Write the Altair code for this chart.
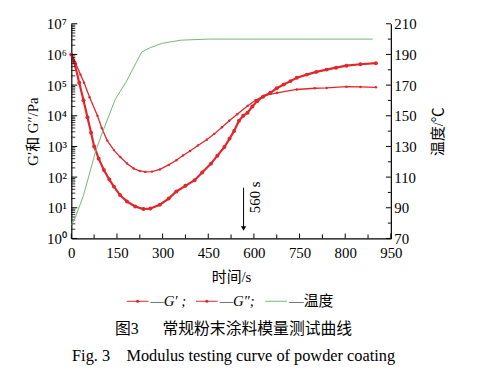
import altair as alt
import pandas as pd

# ---------------- data ----------------
time_gp = [0, 10, 26, 40, 53, 65, 75, 90, 107, 125, 140, 160, 183, 210, 237, 260, 291, 320, 345,
           375, 405, 430, 459, 480, 503, 520, 535, 551, 565, 579, 595, 611, 630, 654, 675, 698,
           720, 741, 774, 805, 839, 870, 904, 950, 1001]
g_storage = [1.0e6, 5.6e5, 1.2e5, 3.2e4, 8.9e3, 2.8e3, 1.0e3, 4.0e2, 1.7e2, 83, 49, 26, 16, 11,
             9.1, 9.5, 12.6, 20, 34, 52, 79, 141, 275, 500, 955, 1.8e3, 3.2e3, 6.9e3, 1.0e4,
             1.26e4, 2.0e4, 3.0e4, 4.2e4, 5.6e4, 7.9e4, 1.05e5, 1.35e5, 1.74e5, 2.2e5, 2.7e5,
             3.2e5, 3.7e5, 4.3e5, 4.8e5, 5.2e5]

time_gpp = [0, 15, 30, 42, 60, 86, 100, 118, 140, 161, 183, 205, 225, 243, 265, 291, 320, 345,
            367, 390, 416, 445, 470, 495, 519, 545, 579, 605, 633, 676, 741, 800, 839, 904, 950,
            1001]
g_loss = [1.0e6, 5.0e5, 2.2e5, 1.2e5, 4.0e4, 1.0e4, 4.0e3, 1.55e3, 760, 450, 280, 190, 160, 148,
          151, 178, 250, 355, 510, 710, 1.07e3, 1.66e3, 2.57e3, 4.2e3, 6.9e3, 1.12e4, 2.1e4,
          3.2e4, 4.5e4, 5.6e4, 7.2e4, 7.9e4, 8.1e4, 8.9e4, 8.7e4, 8.5e4]

time_temp = [0, 10, 40, 80, 100, 145, 180, 231, 260, 300, 360, 450, 600, 800, 990]
temperature = [79, 82, 98, 127, 138, 161, 172, 191.5, 194.5, 197.3, 199.3, 200, 200, 200, 200]

x_ticks = [0, 150, 300, 450, 600, 750, 900, 1050]
x_tick_text = ["0", "150", "300", "450", "600", "750", "800", "950"]
x_minor = [75, 225, 375, 525, 675, 825, 975]
y_decades = [1, 10, 100, 1e3, 1e4, 1e5, 1e6, 1e7]
y_decade_text = ["10⁰", "10¹", "10²", "10³", "10⁴", "10⁵", "10⁶", "10⁷"]
y_minor = [m * 10 ** k for k in range(7) for m in range(2, 10)]
t_ticks = [70, 90, 110, 130, 150, 170, 190, 210]
t_minor = [80, 100, 120, 140, 160, 180, 200]

arrow_time = [566]
arrow_top = [45]
arrow_tip = [2.1]
arrow_label = ["560 s"]
arrow_label_y = [22]

legend_texts = ["—G′ ;", "—G″;", "—温度"]
axis_x_title = "时间/s"
axis_y_title = "G′和 G″/Pa"
axis_t_title = "温度/℃"
caption_cn = "图3\u3000\u2002常规粉末涂料模量测试曲线"
caption_en = "Fig. 3\u00a0\u00a0\u00a0\u00a0Modulus testing curve of powder coating"

# ---------------- styling ----------------
RED = "#e3262c"
GREEN = "#72b872"
FONT = "Liberation Serif, Noto Sans CJK SC"
W, H = 323, 217

xs = alt.Scale(domain=[0, 1050], nice=False, zero=False)
ys = alt.Scale(type="log", domain=[1, 1e7], nice=False)
ts = alt.Scale(domain=[70, 210], nice=False, zero=False)


def expr_map(values, texts):
    e = "datum.label"
    for v, t in reversed(list(zip(values, texts))):
        e = f"(abs(datum.value - {v}) < {v}*1e-6 + 1e-9) ? '{t}' : ({e})"
    return e


x_axis = alt.Axis(
    values=x_ticks, labelExpr=expr_map(x_ticks, x_tick_text), title=axis_x_title,
    labelPadding=7, titleY=39, titleBaseline="middle", labelFlush=False)
y_axis = alt.Axis(
    values=y_decades, labelExpr=expr_map(y_decades, y_decade_text), title=axis_y_title,
    labelPadding=5, titleX=-39, titleY=H / 2, titleBaseline="middle", titleAngle=270,
    labelFlush=False)
t_axis = alt.Axis(
    orient="right", values=t_ticks, title=axis_t_title, labelPadding=3, titleAngle=270,
    titleX=47, titleY=H / 2, titleBaseline="middle", labelFlush=False)


def X(field="t"):
    return alt.X(f"{field}:Q", scale=xs, axis=x_axis)


def Y(field="v"):
    return alt.Y(f"{field}:Q", scale=ys, axis=y_axis)


def T(field="temp"):
    return alt.Y(f"{field}:Q", scale=ts, axis=t_axis)


gp_df = pd.DataFrame({"t": time_gp, "v": g_storage})
gpp_df = pd.DataFrame({"t": time_gpp, "v": g_loss})
temp_df = pd.DataFrame({"t": time_temp, "temp": temperature})

gp_line = alt.Chart(gp_df).mark_line(color=RED, strokeWidth=2.2).encode(x=X(), y=Y())
gp_pts = alt.Chart(gp_df).mark_point(filled=True, color=RED, size=16, opacity=1).encode(x=X(), y=Y())
gpp_line = alt.Chart(gpp_df).mark_line(color=RED, strokeWidth=1.3).encode(x=X(), y=Y())
gpp_pts = alt.Chart(gpp_df).mark_point(filled=True, color=RED, size=6, opacity=1).encode(x=X(), y=Y())

# inward ticks
xt_major = alt.Chart(pd.DataFrame({"t": x_ticks})).mark_rule(color="black", strokeWidth=1).encode(
    x=X(), y=alt.value(H), y2=alt.value(H - 5))
xt_minor = alt.Chart(pd.DataFrame({"t": x_minor})).mark_rule(color="black", strokeWidth=1).encode(
    x=X(), y=alt.value(H), y2=alt.value(H - 4))
yt_major = alt.Chart(pd.DataFrame({"v": y_decades})).mark_rule(color="black", strokeWidth=1).encode(
    y=Y(), x=alt.value(0), x2=alt.value(6))
yt_minor = alt.Chart(pd.DataFrame({"v": y_minor})).mark_rule(color="black", strokeWidth=0.8).encode(
    y=Y(), x=alt.value(0), x2=alt.value(4))

# arrow annotation
arr_df = pd.DataFrame({"t": arrow_time, "v": arrow_top, "v2": arrow_tip, "vl": arrow_label_y,
                       "label": arrow_label})
arrow_line = alt.Chart(arr_df).mark_rule(color="black", strokeWidth=1).encode(
    x=X(), y=Y(), y2="v2:Q")
arrow_head = alt.Chart(arr_df).mark_point(shape="triangle-down", filled=True, color="black",
                                          size=28, opacity=1).encode(x=X(), y=Y("v2"))
arrow_text = alt.Chart(arr_df).mark_text(font=FONT, fontSize=15, angle=270, dy=12,
                                         align="center", baseline="middle", color="black").encode(
    x=X(), y=Y("vl"), text="label:N")

# legend (custom, below the chart)
one = pd.DataFrame({"k": [0]})
LEG_Y = 280.5


def seg(x0, x1, color, dot):
    r = alt.Chart(one).mark_rule(color=color, strokeWidth=1).encode(
        x=alt.value(x0), x2=alt.value(x1), y=alt.value(LEG_Y))
    if not dot:
        return [r]
    p = alt.Chart(one).mark_point(filled=True, color=color, size=10, opacity=1).encode(
        x=alt.value((x0 + x1) / 2), y=alt.value(LEG_Y))
    return [r, p]


def label(text_value, x, y, size=15, align="left", style="normal"):
    return alt.Chart(pd.DataFrame({"s": [text_value]})).mark_text(
        font=FONT, fontSize=size, align=align, baseline="middle", color="black",
        fontStyle=style).encode(x=alt.value(x), y=alt.value(y), text="s:N")


legend_layers = (seg(56, 78, RED, True) + [label(legend_texts[0], 80, LEG_Y, style="italic")]
                 + seg(126, 148, RED, True) + [label(legend_texts[1], 150, LEG_Y, style="italic")]
                 + seg(196, 218, GREEN, False) + [label(legend_texts[2], 220, LEG_Y)])
captions = [label(caption_cn, 164, 309, size=16, align="center"),
            label(caption_en, 164, 336, size=16.5, align="center")]

left_layer = alt.layer(gp_line, gp_pts, gpp_line, gpp_pts, xt_major, xt_minor, yt_major, yt_minor,
                       arrow_line, arrow_head, arrow_text, *legend_layers, *captions)

temp_line = alt.Chart(temp_df).mark_line(color=GREEN, strokeWidth=1).encode(x=X(), y=T())
tt_major = alt.Chart(pd.DataFrame({"temp": t_ticks})).mark_rule(color="black", strokeWidth=1).encode(
    y=T(), x=alt.value(W), x2=alt.value(W - 5))
tt_minor = alt.Chart(pd.DataFrame({"temp": t_minor})).mark_rule(color="black", strokeWidth=1).encode(
    y=T(), x=alt.value(W), x2=alt.value(W - 3))
right_layer = alt.layer(temp_line, tt_major, tt_minor)

chart = alt.layer(left_layer, right_layer).resolve_scale(y="independent").properties(
    width=W, height=H, autosize="none",
    padding={"left": 64, "top": 14, "right": 80, "bottom": 128},
).configure_view(stroke=None).configure_axis(
    grid=False, ticks=False, domainColor="black", domainWidth=1.2,
    labelFont=FONT, labelFontSize=15, labelColor="black",
    titleFont=FONT, titleFontSize=15, titleFontWeight="normal", titleColor="black",
)

chart.save("out.html", embed_options={"renderer": "svg", "actions": False})
